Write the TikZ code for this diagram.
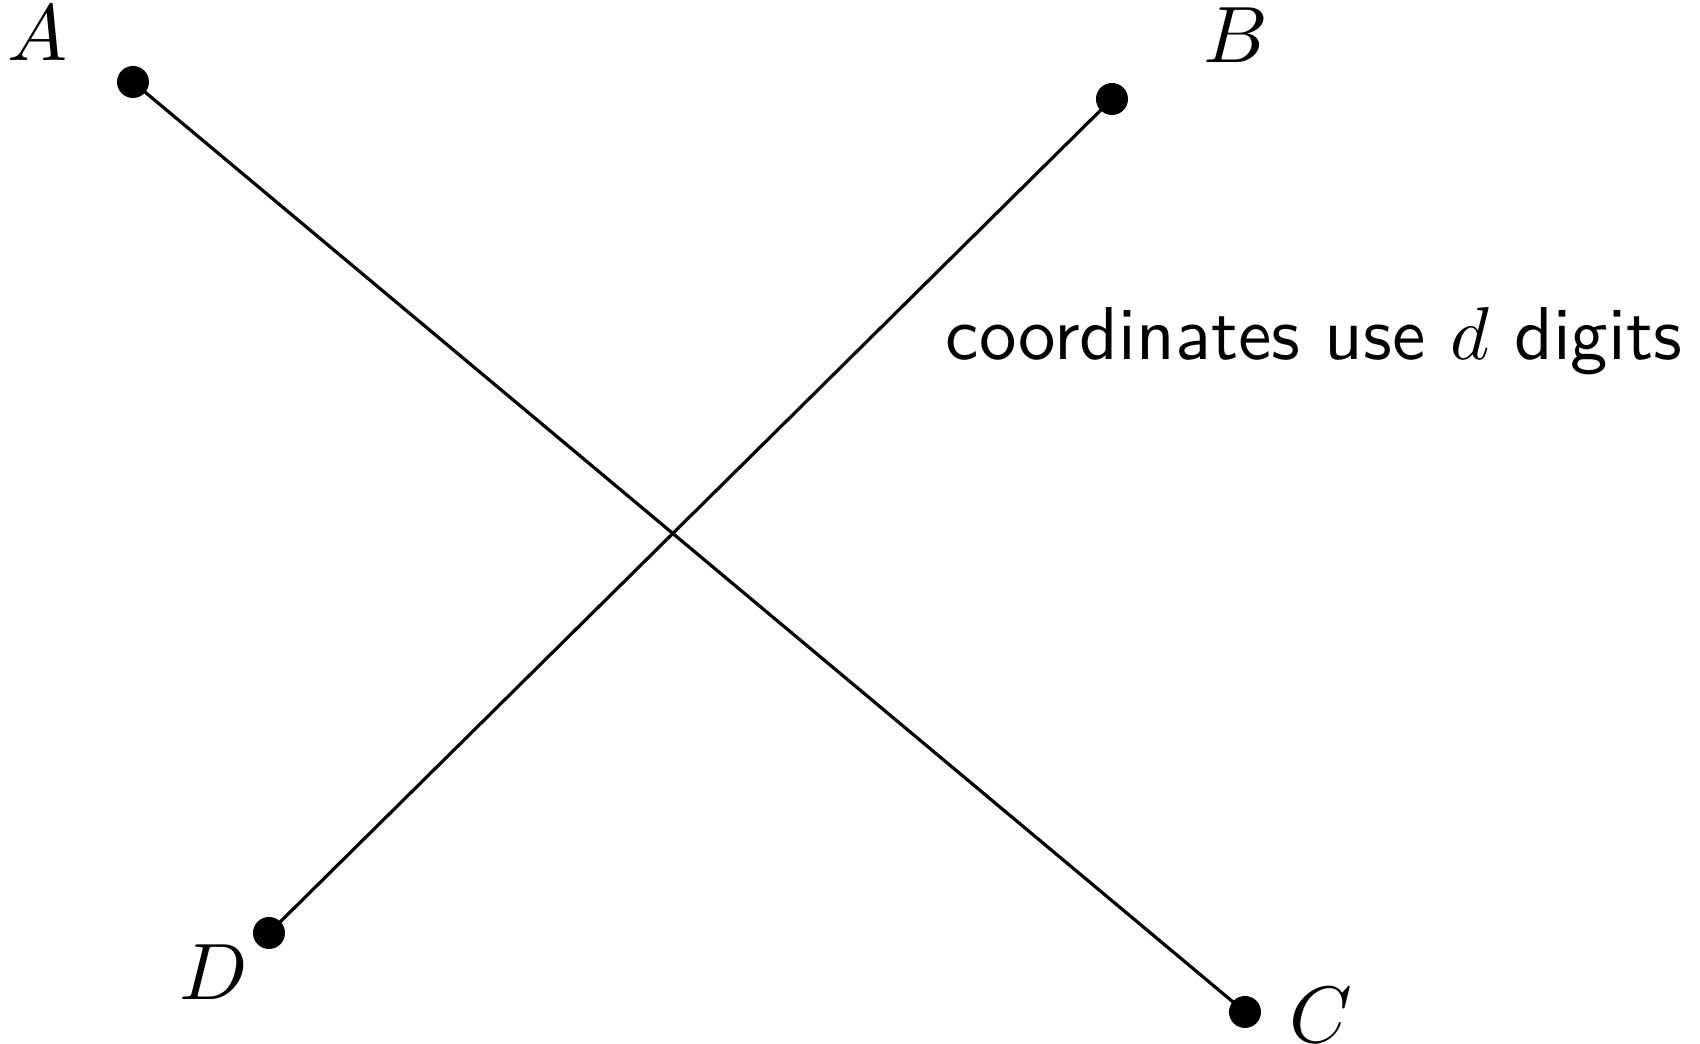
\documentclass[tikz,border=0pt]{standalone}
\begin{document}
\begin{tikzpicture}[x=0.125pt,y=-0.125pt,
  dot/.style={circle,fill=black,inner sep=0pt,minimum size=4pt},
  lbl/.style={inner sep=0pt},
  seg/.style={line width=0.4pt}]
\useasboundingbox (0,0) rectangle (1700,1044);
\node[dot] (a) at (133,82) {};
\node[dot] (b) at (1112,99) {};
\node[dot] (c) at (1245,1012) {};
\node[dot] (d) at (269,933) {};
\draw[seg] (a.center) -- (c.center);
\draw[seg] (b.center) -- (d.center);
\node[lbl] (la) at (38,33) {$A$};
\node[lbl] (lb) at (1236,35) {$B$};
\node[lbl] (lc) at (1321,1015) {$C$};
\node[lbl] (ld) at (214,972) {$D$};
\node[lbl,anchor=base] (t) at (1314,360) {\scalebox{0.936}{\textsf{coordinates use $d$ digits}}};
\end{tikzpicture}
\end{document}
